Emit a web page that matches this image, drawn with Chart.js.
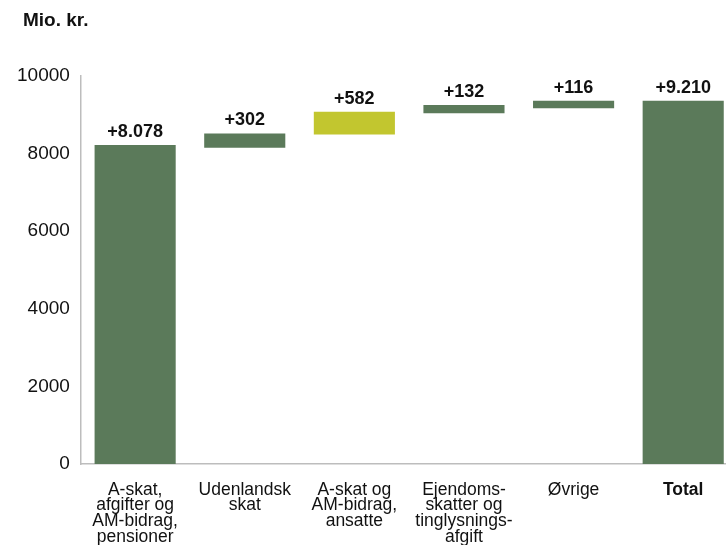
<!DOCTYPE html>
<html>
<head>
<meta charset="utf-8">
<script src="https://cdn.jsdelivr.net/npm/chart.js@4"></script>
<style>
  html, body { margin: 0; padding: 0; background: #fff; overflow: hidden; }
  #wrap { position: relative; width: 738px; height: 555px; }
</style>
</head>
<body>
<div id="wrap"><canvas id="waterfall"></canvas></div>
<script>
// kategorier (flere linjer pr. label)
var categories = [
    ['A-skat,', 'afgifter og', 'AM-bidrag,', 'pensioner'],
    ['Udenlandsk', 'skat'],
    ['A-skat og', 'AM-bidrag,', 'ansatte'],
    ['Ejendoms-', 'skatter og', 'tinglysnings-', 'afgift'],
    ['Øvrige'],
    ['Total']
];
// start og slut for hver søjle
var barStart = [0, 8150, 8490, 9040, 9170, 0];
var barEnd = [8220, 8520, 9080, 9250, 9360, 9360];
// tekst over søjlerne
var deltaLabels = ['+8.078', '+302', '+582', '+132', '+116', '+9.210'];
// y-akse
var yTicks = [0, 2000, 4000, 6000, 8000, 10000];

var green = '#5b7a5a';
var lime = '#c2c62f';
var highlightIndex = 2;

document.addEventListener('DOMContentLoaded', function () {
    var ctx = document.getElementById('waterfall').getContext('2d');

    var ranges = barStart.map(function (s, i) { return [s, barEnd[i]]; });
    var colors = categories.map(function (c, i) { return i === highlightIndex ? lime : green; });

    // tegner "Mio. kr." og tallene over søjlerne
    var labelPlugin = {
        id: 'labels',
        afterDatasetsDraw: function (chart) {
            var c = chart.ctx;
            c.save();
            c.fillStyle = '#111';
            c.font = 'bold 19px "Liberation Sans", Arial, sans-serif';
            c.textAlign = 'left';
            c.textBaseline = 'middle';
            c.fillText('Mio. kr.', 23, 21);
            c.font = 'bold 18px "Liberation Sans", Arial, sans-serif';
            c.textAlign = 'center';
            c.textBaseline = 'alphabetic';
            chart.getDatasetMeta(0).data.forEach(function (bar, i) {
                c.fillText(deltaLabels[i], bar.x, bar.y - 8);
            });
            c.restore();
        }
    };

    new Chart(ctx, {
        type: 'bar',
        data: {
            labels: categories,
            datasets: [{
                data: ranges,
                backgroundColor: colors,
                borderWidth: 0,
                categoryPercentage: 0.74,
                barPercentage: 1
            }]
        },
        options: {
            responsive: true,
            maintainAspectRatio: false,
            animation: false,
            layout: { padding: { top: 76, left: 14.5, right: 0, bottom: 0 } },
            plugins: {
                legend: { display: false },
                tooltip: { enabled: false }
            },
            scales: {
                x: {
                    grid: { display: false },
                    border: { display: true, color: '#bdbdbd', width: 1.5 },
                    ticks: {
                        color: '#111',
                        maxRotation: 0,
                        autoSkip: false,
                        padding: 10,
                        font: function (c) {
                            return {
                                family: '"Liberation Sans", Arial, sans-serif',
                                size: 17.5,
                                lineHeight: 0.9,
                                weight: c.index === 5 ? 'bold' : 'normal'
                            };
                        }
                    }
                },
                y: {
                    min: 0,
                    max: 10000,
                    afterBuildTicks: function (axis) {
                        axis.ticks = yTicks.map(function (v) { return { value: v }; });
                    },
                    grid: { display: false },
                    border: { display: true, color: '#bdbdbd', width: 1.5 },
                    ticks: {
                        color: '#111',
                        padding: 2.5,
                        font: { family: '"Liberation Sans", Arial, sans-serif', size: 19 },
                        callback: function (v) { return String(v); }
                    }
                }
            }
        },
        plugins: [labelPlugin]
    });
});
</script>
</body>
</html>
